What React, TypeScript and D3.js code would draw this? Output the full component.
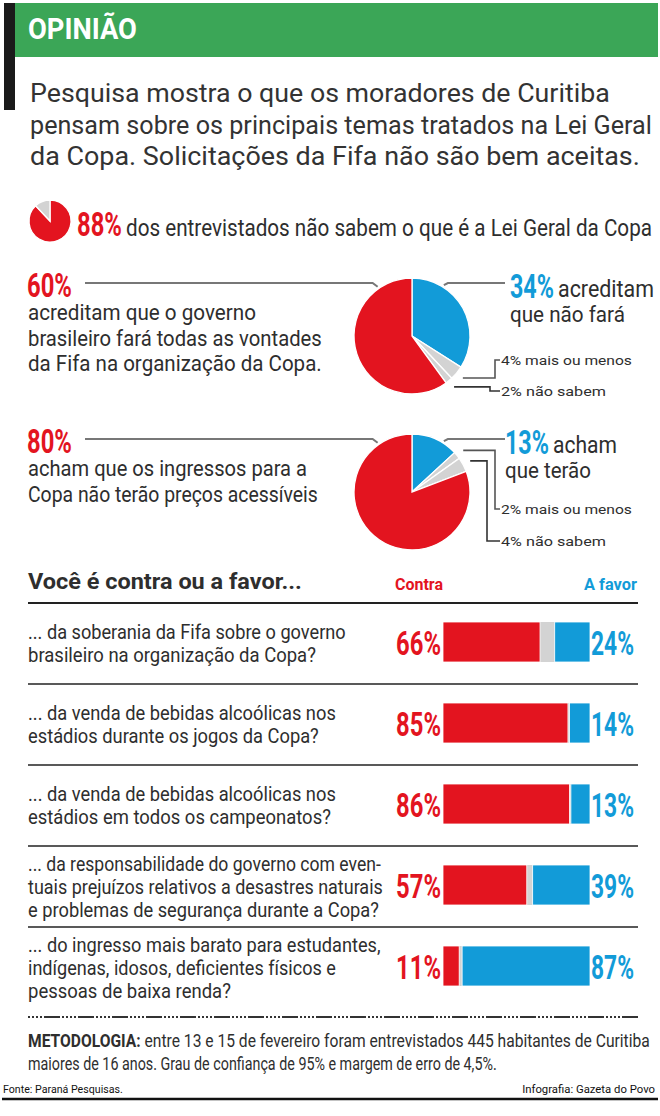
import { useLayoutEffect, useRef, useState } from 'react';
import * as d3 from 'd3';

const RED = '#e3141f';
const BLUE = '#129bd8';
const GRAY = '#d3d3d3';
const INK = '#2e2e2e';
const GREEN = '#3ba657';
const FONT = 'Roboto, "Open Sans", sans-serif';

const introLines = [
  'Pesquisa mostra o que os moradores de Curitiba',
  'pensam sobre os principais temas tratados na Lei Geral',
  'da Copa. Solicitações da Fifa não são bem aceitas.',
];

// 88% não sabem o que é a Lei Geral
const leiValues = [88, 12];

// governo x Fifa: não fará, mais ou menos, não sabem, fará
const govValues = [34, 4, 2, 60];
const govLeft = ['acreditam que o governo', 'brasileiro fará todas as vontades', 'da Fifa na organização da Copa.'];
const govRight = ['acreditam', 'que não fará'];

// ingressos: terão, mais ou menos, não sabem, não terão
const ticketValues = [13, 2, 4, 80];
const ticketLeft = ['acham que os ingressos para a', 'Copa não terão preços acessíveis'];
const ticketRight = ['acham', 'que terão'];

const smallText = ['mais ou menos', 'não sabem'];

const questions = [
  ['... da soberania da Fifa sobre o governo', 'brasileiro na organização da Copa?'],
  ['... da venda de bebidas alcoólicas nos', 'estádios durante os jogos da Copa?'],
  ['... da venda de bebidas alcoólicas nos', 'estádios em todos os campeonatos?'],
  ['... da responsabilidade do governo com even-', 'tuais prejuízos relativos a desastres naturais', 'e problemas de segurança durante a Copa?'],
  ['... do ingresso mais barato para estudantes,', 'indígenas, idosos, deficientes físicos e', 'pessoas de baixa renda?'],
];
const contraValues = [66, 85, 86, 57, 11];
const favorValues = [24, 14, 13, 39, 87];

// layout: rendered widths of the text lines
const introW = [580, 622, 610];
const questionW = [[318, 288], [308, 291], [308, 303], [353, 355, 351], [353, 308, 203]];

type Arc = d3.PieArcDatum<number>;

const pieGen = d3.pie<number>().sort(null).value((d) => d);

function pt(cx: number, cy: number, r: number, a: number): [number, number] {
  return [cx + r * Math.sin(a), cy - r * Math.cos(a)];
}

// text squeezed/stretched horizontally to a given width (the original uses a condensed face)
function FitText({ x, y, w, anchor = 'start', children, ...rest }: any) {
  const ref = useRef<SVGTextElement>(null);
  const [k, setK] = useState(1);
  useLayoutEffect(() => {
    if (!ref.current) return;
    const n = ref.current.getComputedTextLength();
    if (n > 0) setK(w / n);
  }, [w, children]);
  return (
    <text ref={ref} x={0} y={0} transform={`translate(${x},${y}) scale(${k},1)`} textAnchor={anchor} {...rest}>
      {children}
    </text>
  );
}

function Pie({ cx, cy, r, arcs, colors }: { cx: number; cy: number; r: number; arcs: Arc[]; colors: string[] }) {
  const arc = d3.arc<Arc>().innerRadius(0).outerRadius(r);
  return (
    <g transform={`translate(${cx},${cy})`}>
      {arcs.map((a, i) => (
        <path key={i} d={arc(a) || ''} fill={colors[i]} stroke="#fff" strokeWidth={1.3} />
      ))}
    </g>
  );
}

function Pct({ x, y, v, color, anchor = 'start', w = 45 }: any) {
  return (
    <FitText x={x} y={y} w={w} anchor={anchor} fill={color} fontSize={33} fontWeight={700}>
      {v}%
    </FitText>
  );
}

function PieBlock({ cx, cy, r, values, rightX, rightW, rightLines, leftLines, leftW, elbows, smallY, lineY }: any) {
  const arcs = pieGen(values);
  const colors = [BLUE, GRAY, GRAY, RED];
  const [lx, ly] = pt(cx, cy, r + 2, -0.61);
  const [rx, ry] = pt(cx, cy, r + 2, 0.56);
  const smallColors = ['#555', '#333'];
  return (
    <g>
      <Pie cx={cx} cy={cy} r={r} arcs={arcs} colors={colors} />
      <path d={`M85,${lineY}H${lx - 5}L${lx},${ly}`} fill="none" stroke="#777" strokeWidth={2} />
      <path d={`M${rx},${ry}L${rx + 4},${lineY}H505`} fill="none" stroke="#777" strokeWidth={2} />
      <Pct x={27} y={lineY + 14} v={values[3]} color={RED} />
      <Pct x={rightX} y={lineY + 15} v={values[0]} color={BLUE} w={44} />
      <FitText x={rightX + 48} y={lineY + 14} w={rightW[0]} fontSize={23} fill={INK}>{rightLines[0]}</FitText>
      <FitText x={rightX} y={lineY + 39} w={rightW[1]} fontSize={23} fill={INK}>{rightLines[1]}</FitText>
      {leftLines.map((l: string, i: number) => (
        <FitText key={i} x={28} y={lineY + 37 + i * 25.5} w={leftW[i]} fontSize={22} fill={INK}>{l}</FitText>
      ))}
      {[1, 2].map((k, j) => {
        const a = arcs[k];
        const [sx, sy] = pt(cx, cy, r + 8, (a.startAngle + a.endAngle) / 2);
        const ty = smallY[j];
        return (
          <g key={k}>
            <path d={`M${sx},${sy}H${elbows[j]}V${ty}H500`} fill="none" stroke={smallColors[j]} strokeWidth={1.6} />
            <FitText x={501} y={ty + 5} w={[131, 105][j]} fontSize={13} fill={INK}>
              {a.data}% {smallText[j]}
            </FitText>
          </g>
        );
      })}
    </g>
  );
}

export default function App() {
  const W = 660;
  const H = 1116;

  const leiArcs = pieGen(leiValues);

  const x = d3.scaleLinear().domain([0, 100]).range([443, 590]);
  const rows = d3.scaleBand<number>().domain(d3.range(questions.length)).range([603, 1008]);
  const rowH = rows.bandwidth();

  return (
    <svg width={W} height={H} viewBox={`0 0 ${W} ${H}`} fontFamily={FONT}
      style={{ position: 'absolute', left: 0, top: 0, background: '#fff', display: 'block' }}>
      <rect width={W} height={H} fill="#fff" />

      {/* header */}
      <rect x={4} y={3} width={11} height={107} fill="#1a1a1a" />
      <rect x={15} y={3} width={643} height={54} fill={GREEN} />
      <FitText x={28} y={39} w={109} fill="#fff" fontSize={30} fontWeight={700}>OPINIÃO</FitText>
      {introLines.map((l, i) => (
        <FitText key={i} x={30} y={102 + i * 31.5} w={introW[i]} fontSize={25} fill="#333">{l}</FitText>
      ))}

      {/* 88% */}
      <Pie cx={50} cy={221} r={21} arcs={leiArcs} colors={[RED, GRAY]} />
      <Pct x={77} y={236} v={leiValues[0]} color={RED} />
      <FitText x={126} y={236} w={526} fontSize={23} fill={INK}>
        dos entrevistados não sabem o que é a Lei Geral da Copa
      </FitText>

      <PieBlock cx={412} cy={336} r={58} values={govValues}
        rightX={510} rightW={[96, 115]} rightLines={govRight}
        leftLines={govLeft} leftW={[228, 294, 294]} lineY={283}
        elbows={[495, 490]} smallY={[360, 391]} />

      <PieBlock cx={412} cy={492} r={58} values={ticketValues}
        rightX={505} rightW={[64, 86]} rightLines={ticketRight}
        leftLines={ticketLeft} leftW={[279, 290]} lineY={439}
        elbows={[495, 487]} smallY={[509, 541]} />

      {/* bars */}
      <FitText x={28} y={589} w={274} fontSize={22} fontWeight={700} fill={INK}>Você é contra ou a favor...</FitText>
      <FitText x={395} y={590} w={48} fontSize={16} fontWeight={700} fill={RED}>Contra</FitText>
      <FitText x={637} y={590} w={53} anchor="end" fontSize={16} fontWeight={700} fill={BLUE}>A favor</FitText>

      {questions.map((lines, i) => {
        const top = rows(i) as number;
        const mid = top + rowH / 2;
        const first = mid - ((lines.length - 1) * 23) / 2 + 7;
        const barY = top + 19;
        return (
          <g key={i}>
            <line x1={28} x2={638} y1={top} y2={top} stroke="#222" strokeWidth={i === 0 ? 2 : 1.6} />
            {lines.map((l, j) => (
              <FitText key={j} x={28} y={first + j * 23} w={questionW[i][j]} fontSize={20.5} fill={INK}>{l}</FitText>
            ))}
            <rect x={x(contraValues[i])} y={barY} width={x(100 - favorValues[i]) - x(contraValues[i])} height={40} fill={GRAY} />
            <rect x={x(0)} y={barY} width={x(contraValues[i]) - x(0)} height={40} fill={RED} stroke="#fff" strokeWidth={0.8} />
            <rect x={x(100 - favorValues[i])} y={barY} width={x(100) - x(100 - favorValues[i])} height={40} fill={BLUE} stroke="#fff" strokeWidth={0.8} />
            <Pct x={x(0) - 2} y={top + 52} v={contraValues[i]} color={RED} anchor="end" />
            <Pct x={x(100) + 1} y={top + 52} v={favorValues[i]} color={BLUE} w={43} />
          </g>
        );
      })}

      {/* footer */}
      <line x1={28} x2={640} y1={1017} y2={1017} stroke="#333" strokeWidth={2} strokeDasharray="2,2,2,2,2,2,2,2,16,2" />
      <FitText x={28} y={1047} w={622} fontSize={18} fill={INK}>
        <tspan fontWeight={700}>METODOLOGIA:</tspan> entre 13 e 15 de fevereiro foram entrevistados 445 habitantes de Curitiba
      </FitText>
      <FitText x={28} y={1070} w={469} fontSize={18} fill={INK}>
        maiores de 16 anos. Grau de confiança de 95% e margem de erro de 4,5%.
      </FitText>
      <FitText x={3} y={1093} w={120} fontSize={11} fill="#111">Fonte: Paraná Pesquisas.</FitText>
      <FitText x={655} y={1093} w={133} anchor="end" fontSize={11} fill="#111">Infografia: Gazeta do Povo</FitText>
      <line x1={2} x2={658} y1={1099} y2={1099} stroke="#111" strokeWidth={2.5} />
    </svg>
  );
}
